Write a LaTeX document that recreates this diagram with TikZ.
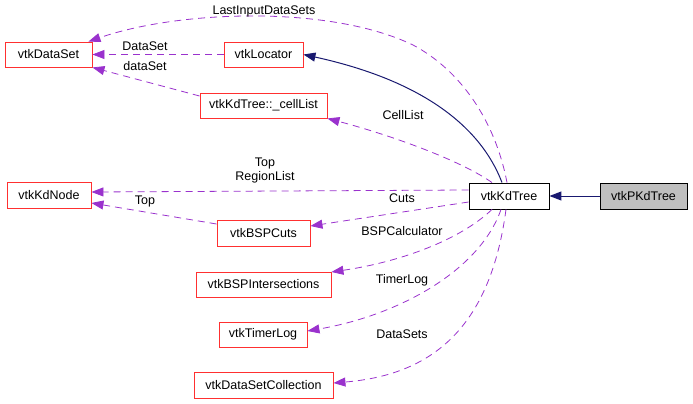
\documentclass[tikz,border=0pt]{standalone}
\usepackage{fontspec}
\setmainfont{Liberation Sans}
\usetikzlibrary{arrows.meta}
\definecolor{edgepurple}{HTML}{9A32CD}
\definecolor{edgenavy}{HTML}{191970}
\definecolor{boxred}{HTML}{FF3030}
\tikzset{
  cls/.style={draw=boxred, line width=0.9pt, fill=white, inner sep=0pt, font=\fontsize{12.5}{14}\selectfont},
  mainbox/.style={draw=black, line width=0.9pt, inner sep=0pt, font=\fontsize{12.5}{14}\selectfont},
  usage/.style={draw=edgepurple, line width=0.8pt, dash pattern=on 7pt off 5pt, -{Triangle[length=12pt,width=9pt,fill=edgepurple]}},
  inherit/.style={draw=edgenavy, line width=1pt, -{Triangle[length=12pt,width=9pt,fill=edgenavy]}},
  lbl/.style={inner sep=0pt, font=\fontsize{12.5}{14.5}\selectfont, align=center}
}
\begin{document}
\begin{tikzpicture}[x=1pt,y=-1pt]
\useasboundingbox (0,0) rectangle (693,404);
% nodes
\node[cls, minimum width=87pt, minimum height=25pt] (ds) at (48.5,54.5) {vtkDataSet};
\node[cls, minimum width=79pt, minimum height=25pt] (loc) at (263.5,54.5) {vtkLocator};
\node[cls, minimum width=127pt, minimum height=25pt] (cl) at (263.5,105.5) {vtkKdTree::\_cellList};
\node[mainbox, minimum width=80pt, minimum height=26pt] (kd) at (509,196) {vtkKdTree};
\node[mainbox, fill=black!25, minimum width=87pt, minimum height=26pt] (pkd) at (643.5,196) {vtkPKdTree};
\node[cls, minimum width=84pt, minimum height=26pt] (kdn) at (49,195) {vtkKdNode};
\node[cls, minimum width=93pt, minimum height=26pt] (cuts) at (263.5,233) {vtkBSPCuts};
\node[cls, minimum width=135pt, minimum height=25pt] (bspi) at (263.5,284.5) {vtkBSPIntersections};
\node[cls, minimum width=88pt, minimum height=25pt] (tl) at (263,334.5) {vtkTimerLog};
\node[cls, minimum width=139pt, minimum height=26pt] (dsc) at (263.5,385) {vtkDataSetCollection};
% anchor coordinates
\coordinate (kdA) at ([xshift=-2pt]kd.north);
\coordinate (kdB) at ([xshift=-7pt]kd.north);
\coordinate (kdC) at ([xshift=-17pt]kd.north);
\coordinate (kdD) at ([xshift=-17pt]kd.south);
\coordinate (kdE) at ([xshift=-8pt]kd.south);
\coordinate (kdF) at ([xshift=-3pt]kd.south);
\coordinate (kdW1) at ([yshift=6pt]kd.west);
\coordinate (kdW2) at ([yshift=-6pt]kd.west);
\coordinate (dsTR) at ([xshift=-4pt]ds.north east);
\coordinate (dsBR) at (ds.south east);
\coordinate (clW) at ([yshift=9.5pt]cl.west);
\coordinate (kdnE1) at ([yshift=3pt]kdn.east);
\coordinate (kdnE2) at ([yshift=-8pt]kdn.east);
\coordinate (cutsW) at ([yshift=9pt]cuts.west);
\coordinate (cutsE) at ([yshift=7pt]cuts.east);
\coordinate (bspiE) at ([yshift=12.5pt]bspi.east);
\coordinate (tlE) at ([yshift=3.5pt]tl.east);
\coordinate (dscE) at ([yshift=2pt]dsc.east);
% edges
\draw[inherit] (pkd.west) -- (kd.east);
\draw[inherit] (kdB) .. controls (480,125) and (420,80) .. (loc.east);
\draw[usage] (kdA) .. controls (495,120) and (460,70) .. (413,45) .. controls (330,5) and (180,10) .. (dsTR);
\draw[usage] (loc.west) -- (ds.east);
\draw[usage] (clW) -- (dsBR);
\draw[usage] (kdC) .. controls (460,160) and (390,135) .. (cl.south east);
\draw[usage] (kdW1) -- (kdnE1);
\draw[usage] (cutsW) -- (kdnE2);
\draw[usage] (kdW2) -- (cutsE);
\draw[usage] (kdD) .. controls (460,240) and (400,262) .. (bspiE);
\draw[usage] (kdE) .. controls (480,270) and (400,315) .. (tlE);
\draw[usage] (kdF) .. controls (490,330) and (430,375) .. (dscE);
% labels
\node[lbl] (l1) at (264,11) {LastInputDataSets};
\node[lbl] (l2) at (145,46) {DataSet};
\node[lbl] (l3) at (145,66) {dataSet};
\node[lbl] (l4) at (403,115) {CellList};
\node[lbl] (l5) at (265,170.5) {Top\\RegionList};
\node[lbl] (l6) at (145,201) {Top};
\node[lbl] (l7) at (402,198) {Cuts};
\node[lbl] (l8) at (402,231) {BSPCalculator};
\node[lbl] (l9) at (402,280) {TimerLog};
\node[lbl] (l10) at (402,334) {DataSets};
\end{tikzpicture}
\end{document}
